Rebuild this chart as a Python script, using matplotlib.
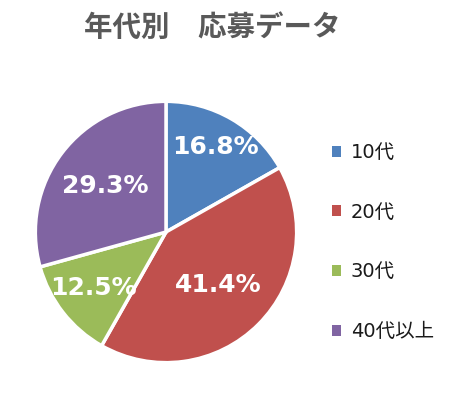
import matplotlib.pyplot as plt
from matplotlib.patches import Patch
import numpy as np

plt.rcParams['font.family'] = ['DejaVu Sans', 'Noto Sans CJK JP']

labels = ['10代', '20代', '30代', '40代以上']
values = [16.8, 41.4, 12.5, 29.3]
colors = ['#4F81BD', '#C0504D', '#9BBB59', '#8064A2']
label_dist = [0.75, 0.57, 0.70, 0.58]

fig = plt.figure(figsize=(4.76, 3.94), dpi=100)
ax = fig.add_axes([36 / 476, 32 / 394, 260 / 476, 260 / 394])

wedges, texts, autotexts = ax.pie(
    values, colors=colors, startangle=90, counterclock=False,
    autopct='%.1f%%', pctdistance=0.65,
    wedgeprops=dict(edgecolor='white', linewidth=2.5),
    textprops=dict(color='white', fontsize=18, fontweight='bold'))
ax.set_aspect('equal')
ax.set_xlim(-0.995, 0.995)
ax.set_ylim(-0.995, 0.995)

for w, t, d in zip(wedges, autotexts, label_dist):
    ang = np.deg2rad((w.theta1 + w.theta2) / 2)
    t.set_position((d * np.cos(ang), d * np.sin(ang)))

fig.text(212 / 476, 1 - 28 / 394, '年代別　応募データ', ha='center', va='center',
         fontsize=20.5, fontweight='bold', color='#595959', family='Noto Sans CJK JP')

handles = [Patch(facecolor=c, edgecolor='none') for c in colors]
fig.legend(handles, labels, loc='center left', bbox_to_anchor=(314 / 476, 1 - 242 / 394),
           frameon=False, fontsize=14, handlelength=0.5, handleheight=0.5,
           handletextpad=0.5, labelspacing=2.09, labelcolor='#1a1a1a')

plt.savefig('out.png', dpi=100)
